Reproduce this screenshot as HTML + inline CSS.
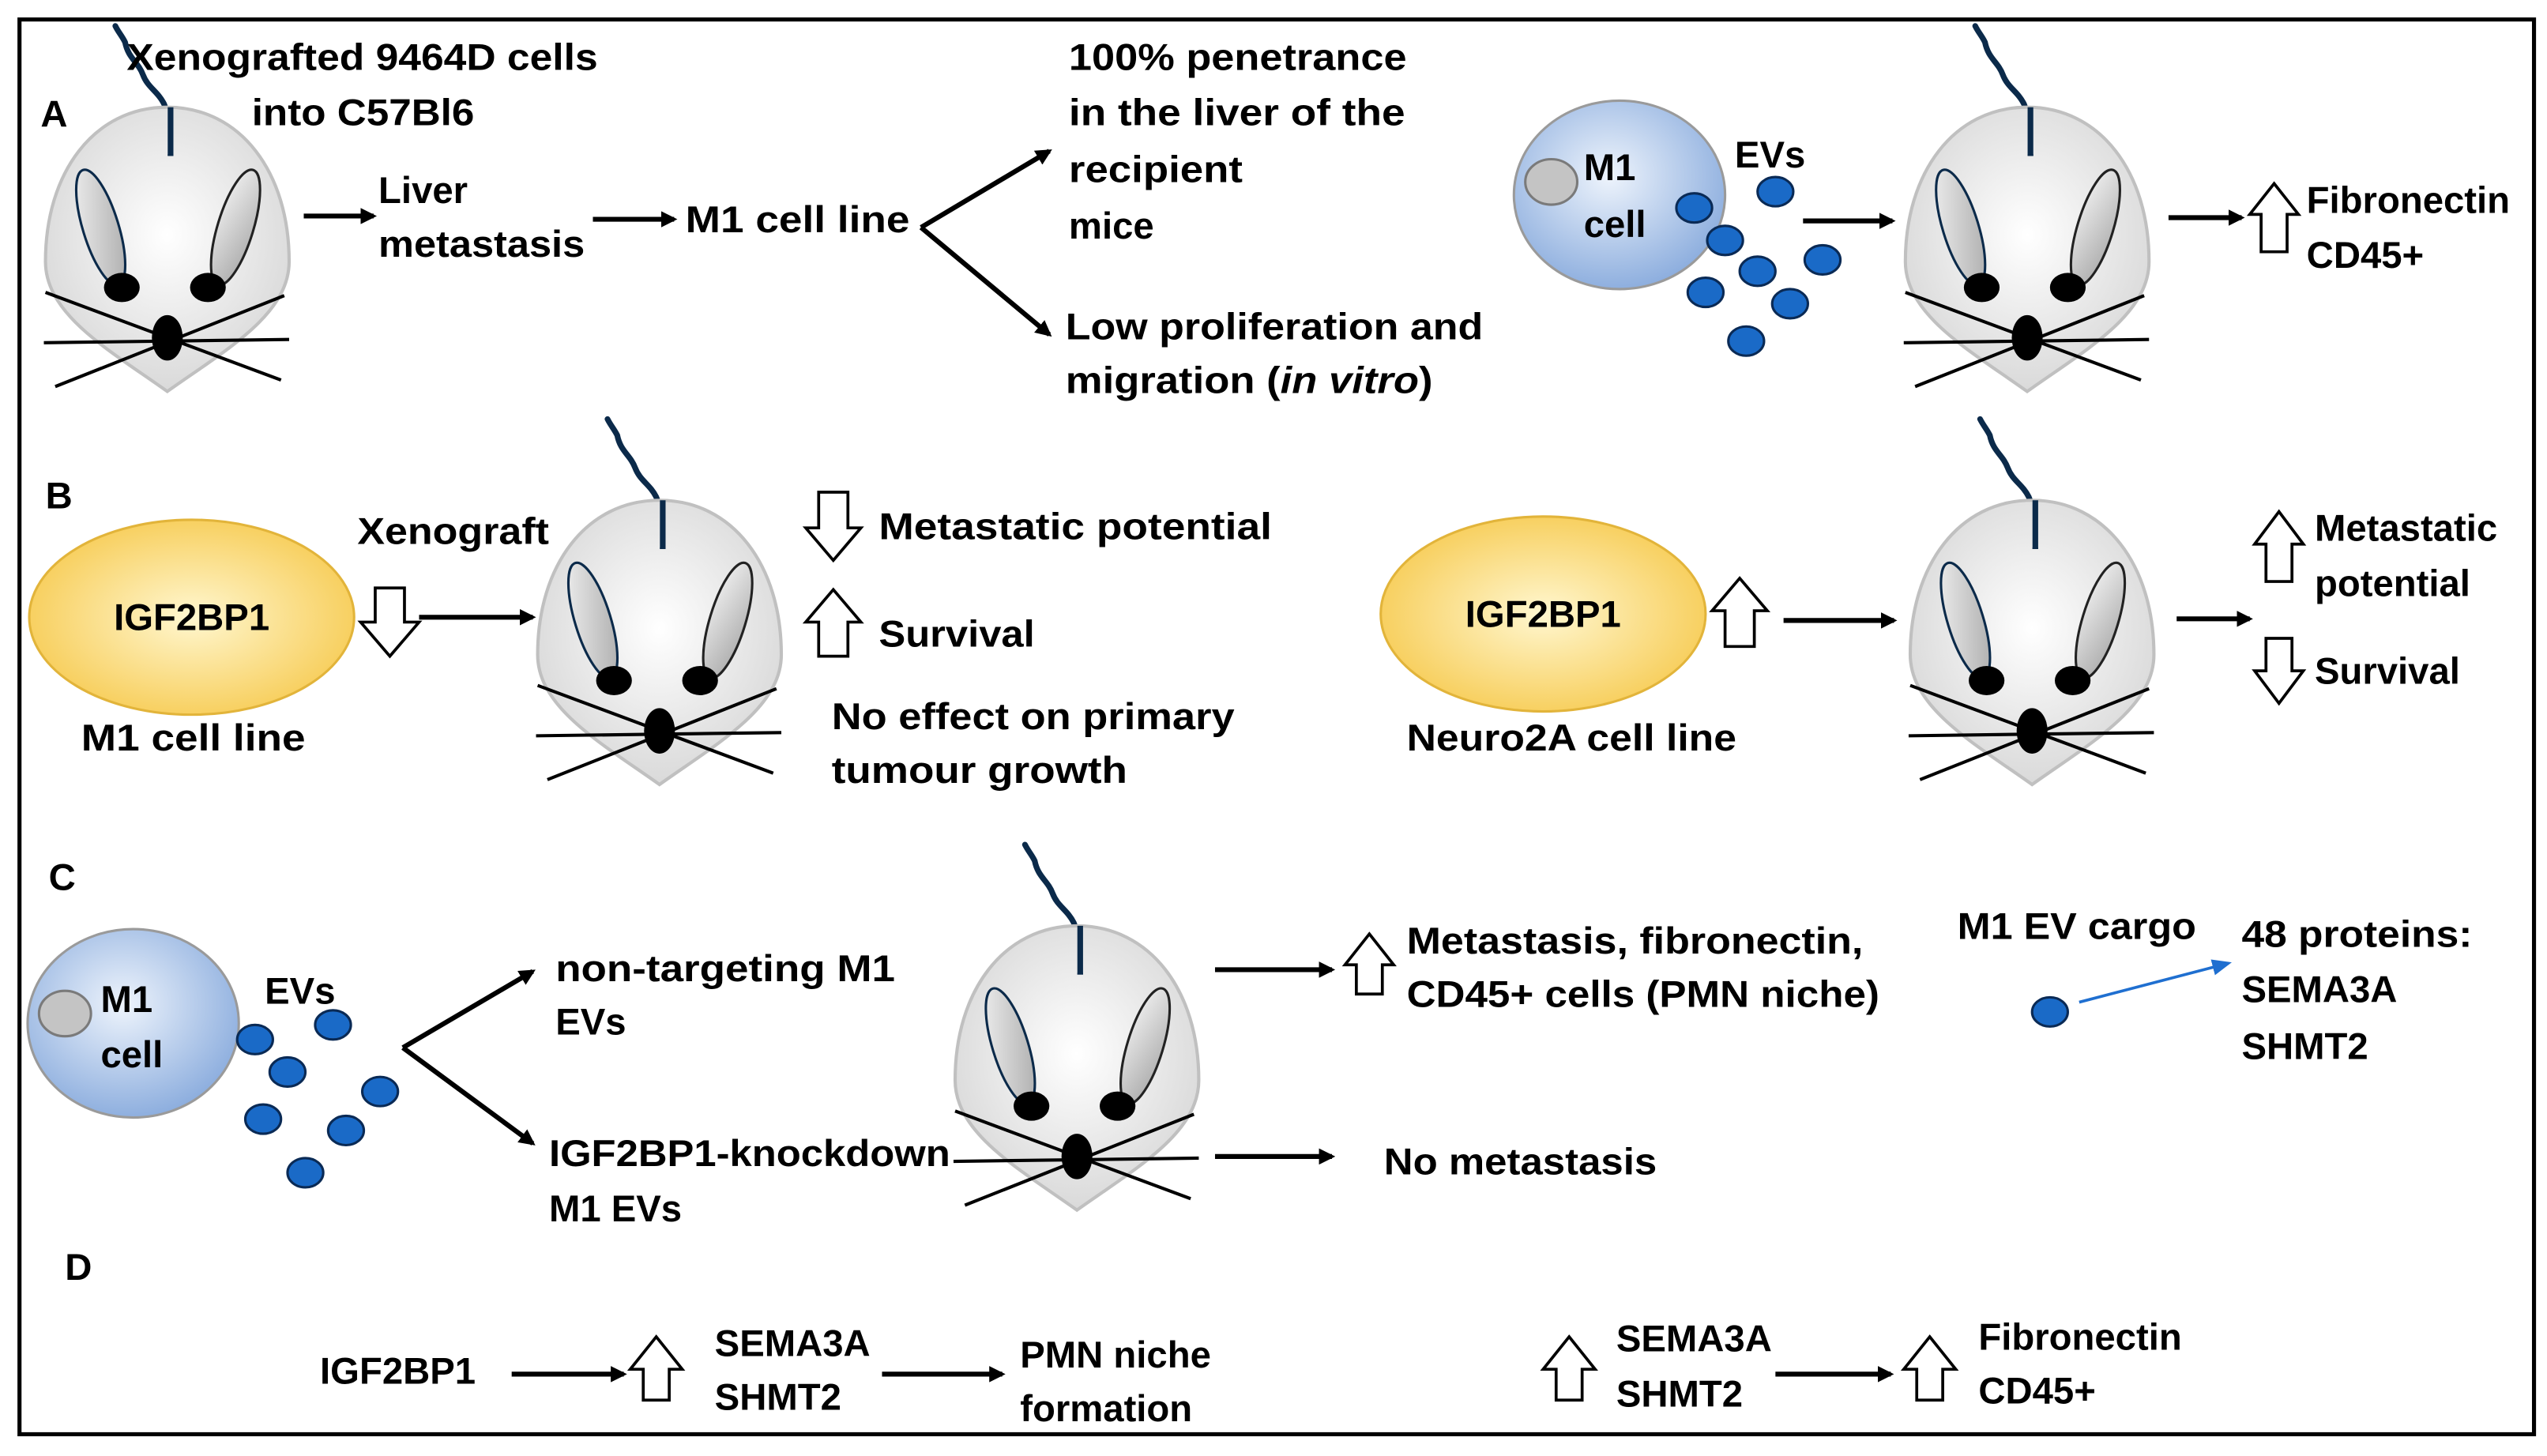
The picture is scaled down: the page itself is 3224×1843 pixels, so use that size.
<!DOCTYPE html>
<html><head><meta charset="utf-8"><style>
html,body{margin:0;padding:0;background:#fff;}
svg{display:block;}
text{font-family:"Liberation Sans",Arial,sans-serif;font-weight:bold;font-size:23px;fill:#000;}
</style></head><body>
<svg width="3224" height="1843" viewBox="0 0 1568 896.4" preserveAspectRatio="none" xmlns="http://www.w3.org/2000/svg">
<defs>
<radialGradient id="gBody" cx="0.5" cy="0.45" r="0.6"><stop offset="0" stop-color="#ffffff"/><stop offset="1" stop-color="#d6d6d6"/></radialGradient>
<linearGradient id="gEar" x1="0" y1="0" x2="1" y2="1"><stop offset="0" stop-color="#f2f2f2"/><stop offset="1" stop-color="#a8a8a8"/></linearGradient>
<radialGradient id="gCell" cx="0.45" cy="0.4" r="0.65"><stop offset="0" stop-color="#eef4fc"/><stop offset="1" stop-color="#86a9dc"/></radialGradient>
<radialGradient id="gY" cx="0.5" cy="0.5" r="0.6"><stop offset="0" stop-color="#fff7d0"/><stop offset="1" stop-color="#f6c84a"/></radialGradient>
<marker id="ah" markerWidth="10" markerHeight="10" refX="8" refY="5" orient="auto" markerUnits="userSpaceOnUse"><path d="M0,0 L10,5 L0,10 Z" fill="#000"/></marker>
<marker id="ahb" markerWidth="12" markerHeight="10" refX="10" refY="5" orient="auto" markerUnits="userSpaceOnUse"><path d="M0,0 L12,5 L0,10 Z" fill="#1f6fd0"/></marker>
<g id="mouse">
<path d="M2,30 C1,15 1,5 -2,-2 C-6,-10 -12,-12 -15,-20 C-18,-28 -24,-30 -26,-40 C-28,-44 -30,-46 -32,-50" fill="none" stroke="#0b2a4a" stroke-width="3.5" stroke-linecap="round"/>
<path d="M0,0 C45,0 75,40 75,95 C75,128 35,150 0,175 C-35,150 -75,128 -75,95 C-75,40 -45,0 0,0 Z" fill="url(#gBody)" stroke="#c0c0c0" stroke-width="2"/>
<path d="M2,30 L2,29" stroke="#0b2a4a" stroke-width="3.5"/>
<line x1="2" y1="0" x2="2" y2="30" stroke="#0b2a4a" stroke-width="3.5"/>
<ellipse cx="-41" cy="74" rx="11" ry="37" transform="rotate(-17 -41 74)" fill="url(#gEar)" stroke="#0b2a4a" stroke-width="1.5"/>
<ellipse cx="42" cy="74" rx="11" ry="37" transform="rotate(17 42 74)" fill="url(#gEar)" stroke="#222" stroke-width="1.5"/>
<ellipse cx="-28" cy="111" rx="11" ry="9"/>
<ellipse cx="25" cy="111" rx="11" ry="9"/>
<line x1="-75" y1="114" x2="70" y2="168" stroke="#000" stroke-width="2"/>
<line x1="-76" y1="145" x2="75" y2="143" stroke="#000" stroke-width="2"/>
<line x1="-69" y1="172" x2="72" y2="116" stroke="#000" stroke-width="2"/>
<ellipse cx="0" cy="142" rx="9.5" ry="14"/>
</g>
<g id="dot"><ellipse cx="0" cy="0" rx="11" ry="9" fill="#1a6ac7" stroke="#0a2a55" stroke-width="1.5"/></g>
</defs>

<rect x="12" y="12" width="1548" height="871" fill="none" stroke="#000" stroke-width="2.5"/>

<!-- Panel A -->
<use href="#mouse" x="103" y="66"/>
<text x="25" y="78">A</text>
<text x="78" y="43" textLength="290" lengthAdjust="spacingAndGlyphs">Xenografted 9464D cells</text>
<text x="155" y="77" textLength="137" lengthAdjust="spacingAndGlyphs">into C57Bl6</text>
<line x1="187" y1="133" x2="230" y2="133" stroke="#000" stroke-width="3" marker-end="url(#ah)"/>
<text x="233" y="125">Liver</text>
<text x="233" y="158" textLength="127" lengthAdjust="spacingAndGlyphs">metastasis</text>
<line x1="365" y1="135" x2="415" y2="135" stroke="#000" stroke-width="3" marker-end="url(#ah)"/>
<text x="422" y="143" textLength="138" lengthAdjust="spacingAndGlyphs">M1 cell line</text>
<line x1="567" y1="140" x2="646" y2="93" stroke="#000" stroke-width="3" marker-end="url(#ah)"/>
<line x1="567" y1="140" x2="646" y2="206" stroke="#000" stroke-width="3" marker-end="url(#ah)"/>
<text x="658" y="43" textLength="208" lengthAdjust="spacingAndGlyphs">100% penetrance</text>
<text x="658" y="77" textLength="207" lengthAdjust="spacingAndGlyphs">in the liver of the</text>
<text x="658" y="112" textLength="107" lengthAdjust="spacingAndGlyphs">recipient</text>
<text x="658" y="147">mice</text>
<text x="656" y="209" textLength="257" lengthAdjust="spacingAndGlyphs">Low proliferation and</text>
<text x="656" y="242" textLength="226" lengthAdjust="spacingAndGlyphs">migration (<tspan font-style="italic">in vitro</tspan>)</text>

<ellipse cx="997" cy="120" rx="65" ry="58" fill="url(#gCell)" stroke="#9a9a9a" stroke-width="1.5"/>
<ellipse cx="955" cy="112" rx="16" ry="14" fill="#c4c4c4" stroke="#7a7a7a" stroke-width="1.5"/>
<text x="975" y="111">M1</text>
<text x="975" y="146">cell</text>
<text x="1068" y="103">EVs</text>
<use href="#dot" x="1043" y="128"/><use href="#dot" x="1093" y="118"/><use href="#dot" x="1062" y="148"/>
<use href="#dot" x="1122" y="160"/><use href="#dot" x="1082" y="167"/><use href="#dot" x="1050" y="180"/>
<use href="#dot" x="1102" y="187"/><use href="#dot" x="1075" y="210"/>
<line x1="1110" y1="136" x2="1165" y2="136" stroke="#000" stroke-width="3" marker-end="url(#ah)"/>
<use href="#mouse" x="1248" y="66"/>
<line x1="1335" y1="134" x2="1380" y2="134" stroke="#000" stroke-width="3" marker-end="url(#ah)"/>
<path d="M1400,113 L1415,132 L1408,132 L1408,155 L1392,155 L1392,132 L1385,132 Z" fill="#fff" stroke="#000" stroke-width="1.8"/>
<text x="1420" y="131">Fibronectin</text>
<text x="1420" y="165">CD45+</text>

<!-- Panel B -->
<text x="28" y="313">B</text>
<ellipse cx="118" cy="380" rx="100" ry="60" fill="url(#gY)" stroke="#e2b43a" stroke-width="1.5"/>
<text x="118" y="388" text-anchor="middle">IGF2BP1</text>
<text x="50" y="462" textLength="138" lengthAdjust="spacingAndGlyphs">M1 cell line</text>
<text x="220" y="335" textLength="118" lengthAdjust="spacingAndGlyphs">Xenograft</text>
<path d="M240,404 L258,383 L249,383 L249,362 L231,362 L231,383 L222,383 Z" fill="#fff" stroke="#000" stroke-width="1.8"/>
<line x1="258" y1="380" x2="328" y2="380" stroke="#000" stroke-width="3" marker-end="url(#ah)"/>
<use href="#mouse" x="406" y="308"/>
<path d="M513,345 L530,325 L522,325 L522,303 L504,303 L504,325 L496,325 Z" fill="#fff" stroke="#000" stroke-width="1.8"/>
<text x="541" y="332" textLength="242" lengthAdjust="spacingAndGlyphs">Metastatic potential</text>
<path d="M513,363 L530,383 L522,383 L522,404 L504,404 L504,383 L496,383 Z" fill="#fff" stroke="#000" stroke-width="1.8"/>
<text x="541" y="398" textLength="96" lengthAdjust="spacingAndGlyphs">Survival</text>
<text x="512" y="449" textLength="248" lengthAdjust="spacingAndGlyphs">No effect on primary</text>
<text x="512" y="482" textLength="182" lengthAdjust="spacingAndGlyphs">tumour growth</text>

<ellipse cx="950" cy="378" rx="100" ry="60" fill="url(#gY)" stroke="#e2b43a" stroke-width="1.5"/>
<text x="950" y="386" text-anchor="middle">IGF2BP1</text>
<text x="866" y="462" textLength="203" lengthAdjust="spacingAndGlyphs">Neuro2A cell line</text>
<path d="M1071,356 L1088,376 L1080,376 L1080,398 L1062,398 L1062,376 L1054,376 Z" fill="#fff" stroke="#000" stroke-width="1.8"/>
<line x1="1098" y1="382" x2="1166" y2="382" stroke="#000" stroke-width="3" marker-end="url(#ah)"/>
<use href="#mouse" x="1251" y="308"/>
<line x1="1340" y1="381" x2="1385" y2="381" stroke="#000" stroke-width="3" marker-end="url(#ah)"/>
<path d="M1403,315 L1418,335 L1411,335 L1411,358 L1395,358 L1395,335 L1388,335 Z" fill="#fff" stroke="#000" stroke-width="1.8"/>
<text x="1425" y="333">Metastatic</text>
<text x="1425" y="367">potential</text>
<path d="M1403,433 L1418,413 L1411,413 L1411,393 L1395,393 L1395,413 L1388,413 Z" fill="#fff" stroke="#000" stroke-width="1.8"/>
<text x="1425" y="421">Survival</text>

<!-- Panel C -->
<text x="30" y="548">C</text>
<ellipse cx="82" cy="630" rx="65" ry="58" fill="url(#gCell)" stroke="#9a9a9a" stroke-width="1.5"/>
<ellipse cx="40" cy="624" rx="16" ry="14" fill="#c4c4c4" stroke="#7a7a7a" stroke-width="1.5"/>
<text x="62" y="623">M1</text>
<text x="62" y="657">cell</text>
<text x="163" y="618">EVs</text>
<use href="#dot" x="157" y="640"/><use href="#dot" x="205" y="631"/><use href="#dot" x="177" y="660"/>
<use href="#dot" x="234" y="672"/><use href="#dot" x="162" y="689"/><use href="#dot" x="213" y="696"/>
<use href="#dot" x="188" y="722"/>
<line x1="248" y1="645" x2="328" y2="598" stroke="#000" stroke-width="3" marker-end="url(#ah)"/>
<line x1="248" y1="645" x2="328" y2="704" stroke="#000" stroke-width="3" marker-end="url(#ah)"/>
<text x="342" y="604" textLength="209" lengthAdjust="spacingAndGlyphs">non-targeting M1</text>
<text x="342" y="637">EVs</text>
<text x="338" y="718" textLength="247" lengthAdjust="spacingAndGlyphs">IGF2BP1-knockdown</text>
<text x="338" y="752">M1 EVs</text>
<use href="#mouse" x="663" y="570"/>
<line x1="748" y1="597" x2="820" y2="597" stroke="#000" stroke-width="3" marker-end="url(#ah)"/>
<path d="M843,575 L858,594 L851,594 L851,612 L835,612 L835,594 L828,594 Z" fill="#fff" stroke="#000" stroke-width="1.8"/>
<text x="866" y="587" textLength="281" lengthAdjust="spacingAndGlyphs">Metastasis, fibronectin,</text>
<text x="866" y="620" textLength="291" lengthAdjust="spacingAndGlyphs">CD45+ cells (PMN niche)</text>
<line x1="748" y1="712" x2="820" y2="712" stroke="#000" stroke-width="3" marker-end="url(#ah)"/>
<text x="852" y="723" textLength="168" lengthAdjust="spacingAndGlyphs">No metastasis</text>
<text x="1205" y="578" textLength="147" lengthAdjust="spacingAndGlyphs">M1 EV cargo</text>
<use href="#dot" x="1262" y="623"/>
<line x1="1280" y1="617" x2="1372" y2="593" stroke="#1f6fd0" stroke-width="1.8" marker-end="url(#ahb)"/>
<text x="1380" y="583" textLength="142" lengthAdjust="spacingAndGlyphs">48 proteins:</text>
<text x="1380" y="617">SEMA3A</text>
<text x="1380" y="652">SHMT2</text>

<!-- Panel D -->
<text x="40" y="788">D</text>
<text x="197" y="852">IGF2BP1</text>
<line x1="315" y1="846" x2="384" y2="846" stroke="#000" stroke-width="3" marker-end="url(#ah)"/>
<path d="M404,823 L420,843 L412,843 L412,862 L396,862 L396,843 L388,843 Z" fill="#fff" stroke="#000" stroke-width="1.8"/>
<text x="440" y="835">SEMA3A</text>
<text x="440" y="868">SHMT2</text>
<line x1="543" y1="846" x2="617" y2="846" stroke="#000" stroke-width="3" marker-end="url(#ah)"/>
<text x="628" y="842">PMN niche</text>
<text x="628" y="875">formation</text>
<path d="M966,823 L982,843 L974,843 L974,862 L958,862 L958,843 L950,843 Z" fill="#fff" stroke="#000" stroke-width="1.8"/>
<text x="995" y="832">SEMA3A</text>
<text x="995" y="866">SHMT2</text>
<line x1="1093" y1="846" x2="1164" y2="846" stroke="#000" stroke-width="3" marker-end="url(#ah)"/>
<path d="M1188,823 L1204,843 L1196,843 L1196,862 L1180,862 L1180,843 L1172,843 Z" fill="#fff" stroke="#000" stroke-width="1.8"/>
<text x="1218" y="831">Fibronectin</text>
<text x="1218" y="864">CD45+</text>
</svg>
</body></html>
